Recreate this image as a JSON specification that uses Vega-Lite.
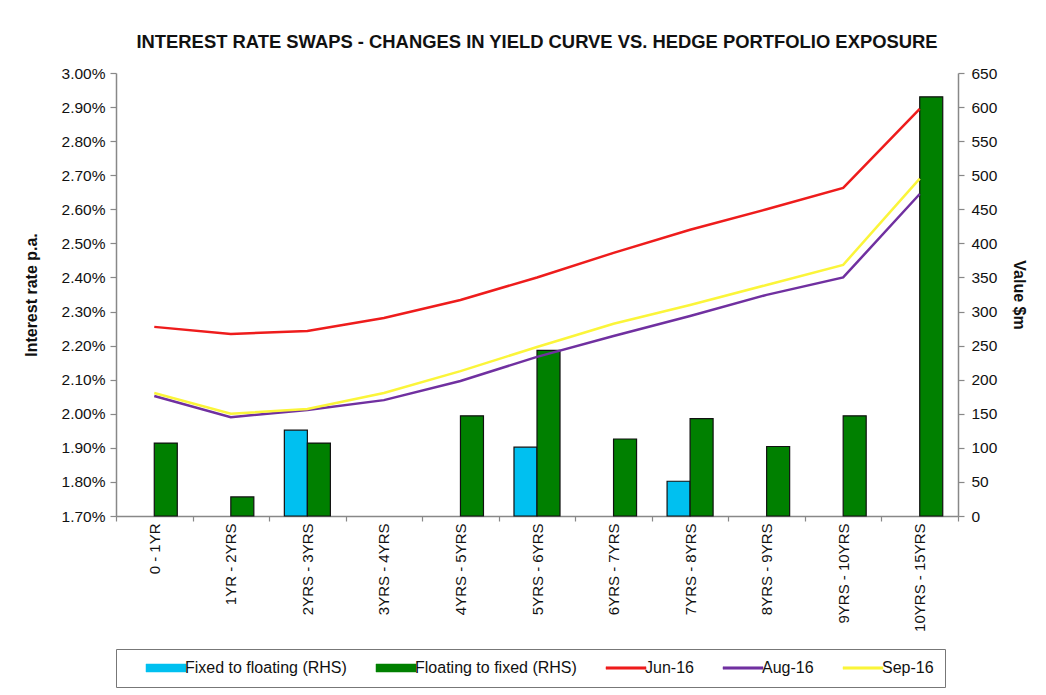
{
  "$schema": "https://vega.github.io/schema/vega-lite/v6.json",
  "width": 842,
  "height": 443,
  "autosize": {"type": "none"},
  "padding": {"left": 116, "top": 73, "right": 88, "bottom": 179},
  "background": "white",
  "title": {
    "text": "INTEREST RATE SWAPS - CHANGES IN YIELD CURVE VS. HEDGE PORTFOLIO EXPOSURE",
    "font": "Liberation Sans",
    "fontSize": 18.4,
    "fontWeight": "bold",
    "color": "#111111",
    "offset": 15
  },
  "config": {
    "font": "Liberation Sans",
    "view": {"fill": "#d9d9d9", "stroke": null},
    "axis": {
      "grid": false,
      "labelFont": "Liberation Sans",
      "labelColor": "#111111",
      "titleFont": "Liberation Sans",
      "titleColor": "#111111",
      "domainColor": "#888888",
      "domainWidth": 1.5,
      "tickColor": "#888888",
      "tickWidth": 1.2
    },
    "legend": {
      "orient": "none",
      "legendX": 0,
      "legendY": 576,
      "direction": "horizontal",
      "columns": 5,
      "padding": 11,
      "strokeColor": "#777777",
      "fillColor": "white",
      "cornerRadius": 0,
      "symbolSize": 100,
      "symbolOffset": 31,
      "symbolStrokeWidth": 0.5,
      "symbolOpacity": 1,
      "labelOffset": 11,
      "columnPadding": 10,
      "labelFont": "Liberation Sans",
      "labelFontSize": 16,
      "labelColor": "#111111",
      "labelLimit": 300
    }
  },
  "datasets": {
    "bars": [
      {"tenor": "0 - 1YR", "series": "Floating to fixed (RHS)", "value": 107},
      {"tenor": "1YR - 2YRS", "series": "Floating to fixed (RHS)", "value": 28},
      {"tenor": "2YRS - 3YRS", "series": "Fixed to floating (RHS)", "value": 126},
      {"tenor": "2YRS - 3YRS", "series": "Floating to fixed (RHS)", "value": 107},
      {"tenor": "4YRS - 5YRS", "series": "Floating to fixed (RHS)", "value": 147},
      {"tenor": "5YRS - 6YRS", "series": "Fixed to floating (RHS)", "value": 101},
      {"tenor": "5YRS - 6YRS", "series": "Floating to fixed (RHS)", "value": 243},
      {"tenor": "6YRS - 7YRS", "series": "Floating to fixed (RHS)", "value": 113},
      {"tenor": "7YRS - 8YRS", "series": "Fixed to floating (RHS)", "value": 51},
      {"tenor": "7YRS - 8YRS", "series": "Floating to fixed (RHS)", "value": 143},
      {"tenor": "8YRS - 9YRS", "series": "Floating to fixed (RHS)", "value": 102},
      {"tenor": "9YRS - 10YRS", "series": "Floating to fixed (RHS)", "value": 147},
      {"tenor": "10YRS - 15YRS", "series": "Floating to fixed (RHS)", "value": 615}
    ],
    "rates": [
      {"tenor": "0 - 1YR", "series": "Jun-16", "rate": 0.02255},
      {"tenor": "1YR - 2YRS", "series": "Jun-16", "rate": 0.02234},
      {"tenor": "2YRS - 3YRS", "series": "Jun-16", "rate": 0.02243},
      {"tenor": "3YRS - 4YRS", "series": "Jun-16", "rate": 0.02281},
      {"tenor": "4YRS - 5YRS", "series": "Jun-16", "rate": 0.02334},
      {"tenor": "5YRS - 6YRS", "series": "Jun-16", "rate": 0.024},
      {"tenor": "6YRS - 7YRS", "series": "Jun-16", "rate": 0.02472},
      {"tenor": "7YRS - 8YRS", "series": "Jun-16", "rate": 0.0254},
      {"tenor": "8YRS - 9YRS", "series": "Jun-16", "rate": 0.026},
      {"tenor": "9YRS - 10YRS", "series": "Jun-16", "rate": 0.02663},
      {"tenor": "10YRS - 15YRS", "series": "Jun-16", "rate": 0.02895},
      {"tenor": "0 - 1YR", "series": "Aug-16", "rate": 0.02052},
      {"tenor": "1YR - 2YRS", "series": "Aug-16", "rate": 0.0199},
      {"tenor": "2YRS - 3YRS", "series": "Aug-16", "rate": 0.02011},
      {"tenor": "3YRS - 4YRS", "series": "Aug-16", "rate": 0.0204},
      {"tenor": "4YRS - 5YRS", "series": "Aug-16", "rate": 0.02096},
      {"tenor": "5YRS - 6YRS", "series": "Aug-16", "rate": 0.02167},
      {"tenor": "6YRS - 7YRS", "series": "Aug-16", "rate": 0.02228},
      {"tenor": "7YRS - 8YRS", "series": "Aug-16", "rate": 0.02287},
      {"tenor": "8YRS - 9YRS", "series": "Aug-16", "rate": 0.02349},
      {"tenor": "9YRS - 10YRS", "series": "Aug-16", "rate": 0.024},
      {"tenor": "10YRS - 15YRS", "series": "Aug-16", "rate": 0.02645},
      {"tenor": "0 - 1YR", "series": "Sep-16", "rate": 0.02061},
      {"tenor": "1YR - 2YRS", "series": "Sep-16", "rate": 0.02},
      {"tenor": "2YRS - 3YRS", "series": "Sep-16", "rate": 0.02014},
      {"tenor": "3YRS - 4YRS", "series": "Sep-16", "rate": 0.02061},
      {"tenor": "4YRS - 5YRS", "series": "Sep-16", "rate": 0.02125},
      {"tenor": "5YRS - 6YRS", "series": "Sep-16", "rate": 0.02196},
      {"tenor": "6YRS - 7YRS", "series": "Sep-16", "rate": 0.02264},
      {"tenor": "7YRS - 8YRS", "series": "Sep-16", "rate": 0.02319},
      {"tenor": "8YRS - 9YRS", "series": "Sep-16", "rate": 0.02378},
      {"tenor": "9YRS - 10YRS", "series": "Sep-16", "rate": 0.02437},
      {"tenor": "10YRS - 15YRS", "series": "Sep-16", "rate": 0.0269}
    ]
  },
  "layer": [
    {
      "data": {"name": "bars"},
      "mark": {"type": "bar", "stroke": "#111111", "strokeWidth": 1.2},
      "encoding": {
        "x": {
          "field": "tenor",
          "type": "nominal",
          "sort": ["0 - 1YR", "1YR - 2YRS", "2YRS - 3YRS", "3YRS - 4YRS", "4YRS - 5YRS", "5YRS - 6YRS", "6YRS - 7YRS", "7YRS - 8YRS", "8YRS - 9YRS", "9YRS - 10YRS", "10YRS - 15YRS"],
          "scale": {"paddingInner": 0, "paddingOuter": 0},
          "axis": {
            "title": null,
            "labelAngle": -90,
            "labelFontSize": 15,
            "tickBand": "extent",
            "tickSize": 5,
            "labelPadding": 2,
            "labelLimit": 200
          }
        },
        "xOffset": {
          "field": "series",
          "type": "nominal",
          "scale": {"domain": ["Fixed to floating (RHS)", "Floating to fixed (RHS)"], "paddingInner": 0, "paddingOuter": 0.663}
        },
        "y": {
          "field": "value",
          "type": "quantitative",
          "scale": {"domain": [0, 650], "nice": false},
          "axis": {
            "orient": "right",
            "title": "Value $m",
            "titleFontSize": 16,
            "titleFontWeight": "bold",
            "titlePadding": 14,
            "values": [0, 50, 100, 150, 200, 250, 300, 350, 400, 450, 500, 550, 600, 650],
            "labelFontSize": 15.5,
            "tickSize": 6,
            "labelPadding": 7
          }
        },
        "color": {
          "field": "series",
          "type": "nominal",
          "scale": {
            "domain": ["Fixed to floating (RHS)", "Floating to fixed (RHS)", "Jun-16", "Aug-16", "Sep-16"],
            "range": ["#00c0f0", "#008000", "#ee1c1c", "#7030a0", "#fbf53a"]
          },
          "legend": {"title": null}
        }
      }
    },
    {
      "data": {"name": "rates"},
      "mark": {"type": "line", "strokeWidth": 2.5},
      "encoding": {
        "x": {
          "field": "tenor",
          "type": "nominal",
          "sort": ["0 - 1YR", "1YR - 2YRS", "2YRS - 3YRS", "3YRS - 4YRS", "4YRS - 5YRS", "5YRS - 6YRS", "6YRS - 7YRS", "7YRS - 8YRS", "8YRS - 9YRS", "9YRS - 10YRS", "10YRS - 15YRS"]
        },
        "y": {
          "field": "rate",
          "type": "quantitative",
          "scale": {"domain": [0.017, 0.03], "nice": false, "zero": false},
          "axis": {
            "orient": "left",
            "title": "Interest rate p.a.",
            "titleFontSize": 16,
            "titleFontWeight": "bold",
            "titlePadding": 22,
            "format": ".2%",
            "values": [0.017, 0.018, 0.019, 0.02, 0.021, 0.022, 0.023, 0.024, 0.025, 0.026, 0.027, 0.028, 0.029, 0.03],
            "labelFontSize": 15.5,
            "tickSize": 6,
            "labelPadding": 5
          }
        },
        "color": {"field": "series", "type": "nominal", "legend": {"title": null}}
      }
    },
    {
      "data": {"values": []},
      "mark": {"type": "point", "filled": true, "opacity": 1},
      "encoding": {
        "shape": {
          "field": "series",
          "type": "nominal",
          "scale": {
            "domain": ["Fixed to floating (RHS)", "Floating to fixed (RHS)", "Jun-16", "Aug-16", "Sep-16"],
            "range": ["M-4,-0.8H4V0.8H-4Z", "M-4,-0.8H4V0.8H-4Z", "M-4,-0.25H4V0.25H-4Z", "M-4,-0.25H4V0.25H-4Z", "M-4,-0.25H4V0.25H-4Z"]
          },
          "legend": {"title": null}
        },
        "color": {"field": "series", "type": "nominal", "legend": {"title": null}}
      }
    }
  ],
  "resolve": {"scale": {"y": "independent"}}
}
